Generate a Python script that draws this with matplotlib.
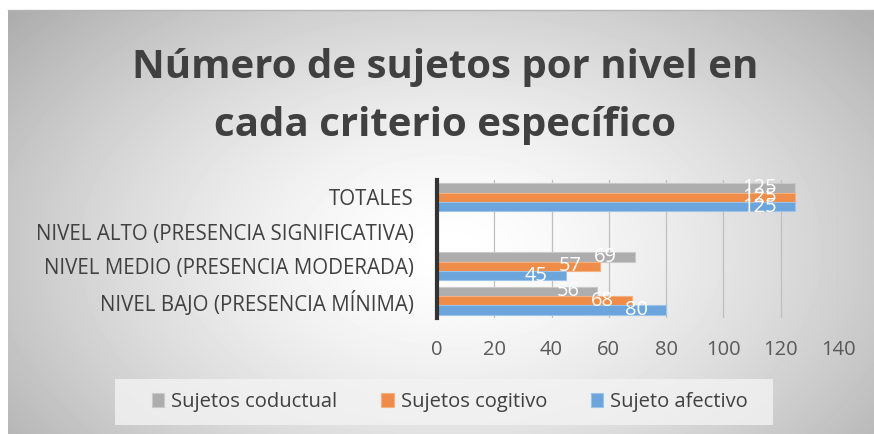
import matplotlib.pyplot as plt
import numpy as np
from matplotlib.patches import Rectangle
from matplotlib.lines import Line2D

categorias = ['NIVEL BAJO (PRESENCIA MÍNIMA)', 'NIVEL MEDIO (PRESENCIA MODERADA)',
              'NIVEL ALTO (PRESENCIA SIGNIFICATIVA)', 'TOTALES']
series = ['Sujetos coductual', 'Sujetos cogitivo', 'Sujeto afectivo']
conductual = [56, 69, 0, 125]
cognitivo = [68, 57, 0, 125]
afectivo = [80, 45, 0, 125]
ticks = [0, 20, 40, 60, 80, 100, 120, 140]
titulo = ['Número de sujetos por nivel en', 'cada criterio específico']

colores = ['#ADADAD', '#EF8C48', '#6CA5DB']
bordes = ['#C9C9C9', '#F5B07F', '#9CC3E8']

W, H = 874, 434
fig = plt.figure(figsize=(W / 100, H / 100), dpi=100)
fig.patch.set_facecolor('white')

# fondo con degradado radial
bg = fig.add_axes([8 / W, 0, 1 - 8 / W, 1 - 10 / H], zorder=-10)
yy, xx = np.mgrid[10:H, 8:W]
d = np.sqrt(((xx - 450) / 470.0) ** 2 + ((yy - 250) / 300.0) ** 2)
val = 1 - 0.24 * np.clip(d, 0, 1.25) ** 1.5
bg.imshow(val, cmap='gray', vmin=0, vmax=1, aspect='auto', extent=[0, 1, 0, 1])
bg.axis('off')
fig.add_artist(Line2D([8 / W, 1], [1 - 10 / H] * 2, color='#B5B5B5', lw=1))

for linea, yb in zip(titulo, [78, 136]):
    fig.text(445 / W, 1 - yb / H, linea, ha='center', va='baseline', fontsize=29,
             fontweight='bold', color='#404040', family='Open Sans')

ax = fig.add_axes([437 / W, 1 - 318 / H, 401 / W, 138 / H])
ax.patch.set_alpha(0)
y = np.arange(len(categorias))
h = 0.275
for i, (vals, off) in enumerate(zip([conductual, cognitivo, afectivo], [h, 0, -h])):
    bars = ax.barh(y + off, vals, height=h, color=colores[i], edgecolor=bordes[i],
                   linewidth=0.8, label=series[i], zorder=3)
    for b, v in zip(bars, vals):
        if v == 0:
            continue
        ax.annotate(str(v), (v, b.get_y() + b.get_height() / 2), xytext=(-13, 0),
                    textcoords='offset points', ha='right', va='center',
                    color='white', fontsize=14.5, family='Open Sans', zorder=5)

ax.set_xlim(0, 140)
ax.set_ylim(-0.5, 3.5)
ax.set_xticks(ticks)
ax.set_yticks(y)
ax.set_yticklabels(categorias)
ax.xaxis.grid(True, color='#BFBFBF', lw=0.9, zorder=0)
ax.tick_params(axis='x', length=0, pad=16, labelsize=14.5, labelcolor='#595959')
ax.tick_params(axis='y', length=0, pad=17, labelsize=14.8, labelcolor='#404040')
for lab in ax.get_xticklabels() + ax.get_yticklabels():
    lab.set_family('Open Sans')
for s in ['top', 'right', 'bottom']:
    ax.spines[s].set_visible(False)
ax.spines['left'].set_color('#333333')
ax.spines['left'].set_linewidth(3)
ax.spines['left'].set_zorder(6)

# leyenda
fig.add_artist(Rectangle((115 / W, 1 - 425 / H), 658 / W, 46 / H, transform=fig.transFigure,
                         facecolor='#F3F3F3', edgecolor='none', alpha=0.8, zorder=1))
hs, ls = ax.get_legend_handles_labels()
leg = fig.legend(hs, ls, loc='center', bbox_to_anchor=(450 / W, 1 - 402 / H), ncol=3,
                 frameon=False, handlelength=0.6, handleheight=0.75, handletextpad=0.35,
                 columnspacing=2.2, prop={'family': 'Open Sans', 'size': 14.5})
for t in leg.get_texts():
    t.set_color('#404040')
leg.set_zorder(2)

fig.savefig('out.png', dpi=100)
